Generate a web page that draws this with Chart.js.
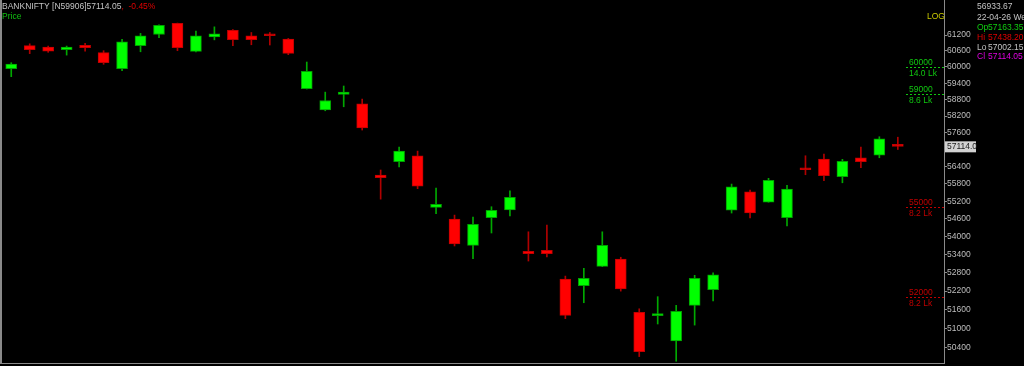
<!DOCTYPE html>
<html>
<head>
<meta charset="utf-8">
<script src="https://cdn.jsdelivr.net/npm/chart.js@4/dist/chart.umd.min.js"></script>
<style>
  html, body { margin: 0; padding: 0; background: #000; }
  #wrap { width: 1024px; height: 366px; }
</style>
</head>
<body>
<div id="wrap"><canvas id="chart" width="1024" height="366"></canvas></div>
<script>
// daily candles, BANKNIFTY, last one is 22-04-26
const opens  = [59935, 60800, 60750, 60645, 60810, 60535, 59935, 60800, 61225, 61650,
                60585, 61135, 61380, 61175, 61225, 61050, 59195, 58425, 58990, 58645,
                56105, 56570, 56780, 54990, 54590, 53705, 54635, 54905, 53505, 53540,
                52595, 52375, 53010, 53250, 51515, 51410, 50610, 51740, 52245, 54895,
                55525, 55170, 54635, 56360, 56665, 56045, 56710, 56805, 57163.35];
const highs  = [60160, 60870, 60785, 60785, 60885, 60610, 61040, 61265, 61590, 61660,
                61350, 61515, 61415, 61300, 61300, 61075, 60185, 59070, 59295, 58815,
                56280, 57090, 56945, 55650, 54725, 54660, 55010, 55560, 54160, 54390,
                52690, 52945, 54160, 53310, 51630, 52020, 51740, 52715, 52800, 55790,
                55585, 55990, 55745, 56780, 56840, 56655, 57090, 57455, 57438.20];
const lows   = [59640, 60500, 60550, 60445, 60595, 60100, 59860, 60570, 61100, 60610,
                60560, 61020, 60800, 60835, 60825, 60460, 59185, 58390, 58535, 57695,
                55270, 56385, 55630, 54770, 53685, 53260, 54120, 54700, 53185, 53325,
                51315, 51825, 53000, 52200, 50120, 51145, 49975, 51110, 51880, 54795,
                54625, 55165, 54355, 56115, 55905, 55835, 56360, 56710, 57002.15];
const closes = [60110, 60645, 60595, 60750, 60720, 60160, 60945, 61175, 61570, 60720,
                61175, 61250, 61025, 61025, 61175, 60510, 59835, 58765, 59070, 57775,
                56010, 56945, 55720, 55090, 53750, 54410, 54885, 55330, 53425, 53425,
                51420, 52615, 53705, 52270, 50275, 51465, 51550, 52615, 52735, 55695,
                54795, 55920, 55615, 56290, 56080, 56585, 56570, 57385, 57114.05];

const priceTicks = [50400, 51000, 51600, 52200, 52800, 53400, 54000, 54600, 55200, 55800,
                    56400, 57000, 57600, 58200, 58800, 59400, 60000, 60600, 61200];

// open interest levels marked on the right
const levelPrices  = [60000, 59000, 55000, 52000];
const levelVolumes = ['14.0 Lk', '8.6 Lk', '8.2 Lk', '8.2 Lk'];
const levelColors  = ['#10c810', '#10c810', '#c00000', '#c00000'];

const lastPrice = 57114.05;
const spareSlots = 2; // empty room right of the last candle

const labels = opens.map((_, i) => i + 1);
for (let i = 0; i < spareSlots; i++) labels.push('');

const isUp = opens.map((o, i) => closes[i] >= o);
const bodies = opens.map((o, i) => [Math.min(o, closes[i]), Math.max(o, closes[i])]);
const wicks = opens.map((_, i) => [lows[i], highs[i]]);

const FONT = '"Liberation Sans", Arial, sans-serif';
const TXT = '8.5px ' + FONT;

const overlay = {
  id: 'overlay',
  afterDraw(chart) {
    const ctx = chart.ctx;
    const y = chart.scales.y;
    const area = chart.chartArea;
    ctx.save();

    // frame
    ctx.fillStyle = '#8a8a8a';
    ctx.fillRect(0, 0, 2, area.bottom + 1);
    ctx.fillRect(0, area.bottom, area.right + 1, 1);

    ctx.font = TXT;
    ctx.textBaseline = 'middle';
    ctx.textAlign = 'left';

    // header
    let x = 2;
    const head = 'BANKNIFTY [N59906]57114.05';
    ctx.fillStyle = '#c4c4c4';
    ctx.fillText(head, x, 7);
    x += ctx.measureText(head).width;
    ctx.fillStyle = '#e00000';
    ctx.fillText(',  -0.45%', x, 7);
    ctx.fillStyle = '#10c010';
    ctx.fillText('Price', 2, 17);

    ctx.fillStyle = '#c8c800';
    ctx.fillText('LOG', 927, 17);

    // info box
    const info = [
      ['', '56933.67', '#c4c4c4'],
      ['', '22-04-26 Wed', '#c4c4c4'],
      ['Op', '57163.35', '#10d010'],
      ['Hi', '57438.20', '#e00000'],
      ['Lo', '57002.15', '#c4c4c4'],
      ['Cl', '57114.05', '#e000e0']
    ];
    const rowY = [7, 18, 28, 38, 48, 57];
    info.forEach((row, i) => {
      ctx.fillStyle = row[2];
      if (row[0]) {
        ctx.fillText(row[0], 977, rowY[i]);
        ctx.fillText(row[1], 988, rowY[i]);
      } else {
        ctx.fillText(row[1], 977, rowY[i]);
      }
    });

    // level markers
    levelPrices.forEach((p, i) => {
      const py = Math.round(y.getPixelForValue(p)) + 0.5;
      ctx.strokeStyle = levelColors[i];
      ctx.lineWidth = 1;
      ctx.setLineDash([2, 2]);
      ctx.beginPath();
      ctx.moveTo(906, py);
      ctx.lineTo(area.right, py);
      ctx.stroke();
      ctx.setLineDash([]);
      ctx.fillStyle = levelColors[i];
      ctx.fillText(String(p), 909, py - 5);
      ctx.fillText(levelVolumes[i], 909, py + 6);
    });

    // last price tag
    const ly = y.getPixelForValue(lastPrice);
    ctx.fillStyle = '#d2d2d2';
    ctx.fillRect(area.right + 1, ly - 5, 31, 11);
    ctx.fillStyle = '#202020';
    ctx.fillText('57114.0', area.right + 3, ly + 0.5);

    ctx.restore();
  }
};

new Chart(document.getElementById('chart'), {
  type: 'bar',
  data: {
    labels,
    datasets: [
      {
        label: 'wick',
        data: wicks,
        backgroundColor: isUp.map(u => (u ? '#00a800' : '#b00000')),
        borderWidth: 0,
        barThickness: 1,
        grouped: false,
        order: 2
      },
      {
        label: 'body',
        data: bodies,
        backgroundColor: isUp.map(u => (u ? '#00ff00' : '#ff0000')),
        borderColor: isUp.map(u => (u ? '#00a000' : '#c00000')),
        borderWidth: 1,
        borderSkipped: false,
        barThickness: 11,
        minBarLength: 2,
        grouped: false,
        order: 1
      }
    ]
  },
  options: {
    responsive: false,
    animation: false,
    layout: { padding: { left: 2, top: 0, right: 0, bottom: 3 } },
    plugins: { legend: { display: false }, tooltip: { enabled: false } },
    scales: {
      x: {
        type: 'category',
        display: false,
        offset: true,
        grid: { display: false }
      },
      y: {
        type: 'logarithmic',
        position: 'right',
        min: 49920,
        max: 62550,
        afterBuildTicks: (scale) => {
          scale.ticks = priceTicks.map(v => ({ value: v }));
        },
        afterFit: (scale) => {
          scale.width = 80;
          scale.paddingTop = 0;
          scale.paddingBottom = 0;
        },
        border: { display: true, color: '#8a8a8a', width: 1 },
        grid: { drawOnChartArea: false, drawTicks: true, tickLength: 3, color: '#8a8a8a' },
        ticks: {
          color: '#bdbdbd',
          padding: 0,
          font: { family: FONT, size: 8.5 },
          callback: (v) => String(v)
        }
      }
    }
  },
  plugins: [overlay]
});
</script>
</body>
</html>
